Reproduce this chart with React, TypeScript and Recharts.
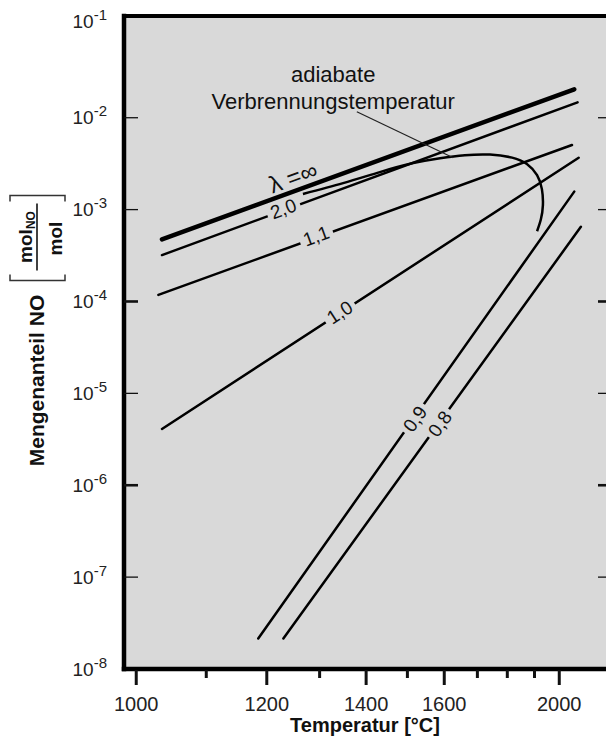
import React from "react";
import { LineChart, Line, XAxis, YAxis, CartesianGrid, ReferenceLine, ReferenceDot } from "recharts";

const W = 606;
const H = 737;
const FONT = '"Liberation Sans", Arial, Helvetica, sans-serif';
const BG = "#d9d9d9";

// temperature axis in °C, plotted over 1/T (K) like the original
const tempTicks = [1000, 1100, 1200, 1300, 1400, 1500, 1600, 1700, 1800, 1900, 2000];
const tempLabels = [1000, 1200, 1400, 1600, 2000];
const tempRange = [984, 2216];

// NO fraction, log axis
const noTicks = [1e-8, 1e-7, 1e-6, 1e-5, 1e-4, 1e-3, 1e-2, 1e-1];
const noRange = [1e-8, 0.128];

// lines of constant air ratio
const lambdaNames = ["λ =∞", "2,0", "1,1", "1,0", "0,9", "0,8"];
const lineStartT = [1035, 1035, 1030, 1035, 1185, 1230];
const lineEndT = [2065, 2080, 2055, 2085, 2065, 2095];
const lineStartNO = [4.75e-4, 3.2e-4, 1.18e-4, 4.1e-6, 2.15e-8, 2.15e-8];
const lineEndNO = [2.04e-2, 1.47e-2, 5.05e-3, 3.67e-3, 1.57e-3, 6.5e-4];

// where the names sit on the lines
const nameT = [1248, 1230, 1293, 1342, 1520, 1588];
const nameNO = [2.26e-3, 1.02e-3, 5.16e-4, 7.6e-5, 5.26e-6, 4.65e-6];
const nameAngle = [-20, -20, -20, -33, -55, -54];

// adiabatic combustion temperature
const adiabatT = [1267, 1349, 1432, 1515, 1588, 1661, 1741, 1817, 1871, 1910, 1929, 1933, 1925, 1910];
const adiabatNO = [1.48e-3, 1.94e-3, 2.56e-3, 3.21e-3, 3.63e-3, 3.91e-3, 3.97e-3, 3.68e-3, 3.13e-3, 2.37e-3, 1.67e-3, 1.12e-3, 7.84e-4, 5.82e-4];

// annotation + leader
const noteLines = ["adiabate", "Verbrennungstemperatur"];
const noteT = 1328;
const noteNO = 2.11e-2;
const leaderT = [1379, 1626];
const leaderNO = [1.16e-2, 3.67e-3];

const toInv = (t: number) => -1e4 / (t + 273.15);

const lambdaLines = lambdaNames.map((_, i) => [
    { inv: toInv(lineStartT[i]), no: lineStartNO[i] },
    { inv: toInv(lineEndT[i]), no: lineEndNO[i] },
]);
const adiabat = adiabatT.map((t, i) => ({ inv: toInv(t), no: adiabatNO[i] }));
const leader = leaderT.map((t, i) => ({ inv: toInv(t), no: leaderNO[i] }));

function TempTick({ x, y, payload }: any) {
    const t = Math.round(-1e4 / payload.value - 273.15);
    const major = tempLabels.includes(t);
    return (
        <g>
            <line x1={x} x2={x} y1={y + 1} y2={y + (major ? 16 : 9)} stroke="#111" strokeWidth={3} />
            {major && (
                <text x={x} y={y + 42} textAnchor="middle" fill="#222" fontFamily={FONT} fontSize={20}>
                    {t}
                </text>
            )}
        </g>
    );
}

function DecadeTick({ x, y, payload }: any) {
    const exp = Math.round(Math.log10(payload.value));
    const inner = exp > -8 && exp < -1;
    const sw = exp === -4 || exp === -6 ? 2.6 : 1.3;
    const dy = exp === -1 ? -4 : 0;
    return (
        <g>
            {inner && <line x1={x + 17} x2={x + 31} y1={y} y2={y} stroke="#111" strokeWidth={sw} />}
            {inner && <line x1={W - 8} x2={W} y1={y} y2={y} stroke="#111" strokeWidth={sw} />}
            <text x={x} y={y + 6.5 + dy} textAnchor="end" fill="#222" fontFamily={FONT} fontSize={19}>
                10<tspan dy={-8} fontSize={15}>{exp}</tspan>
            </text>
        </g>
    );
}

function NoTitle({ viewBox }: any) {
    const cx = viewBox.x + 36;
    const cy = viewBox.y + viewBox.height / 2 + 38;
    return (
        <g transform={`translate(${cx},${cy}) rotate(-90)`} fontFamily={FONT} fill="#111">
            <text x={0} y={0} textAnchor="middle" dominantBaseline="central" fontSize={21} fontWeight="bold">
                Mengenanteil NO
            </text>
            <path d="M106,-26 H100 V29 H106 M179,-26 H185 V29 H179" fill="none" stroke="#333" strokeWidth={1.5} />
            <path d="M110,1 H177" stroke="#111" strokeWidth={1.6} />
            <text x={143.5} y={-4} textAnchor="middle" fontSize={19} fontWeight="bold">
                mol<tspan fontSize={12} dy={3}>NO</tspan>
            </text>
            <text x={142} y={26} textAnchor="middle" fontSize={19} fontWeight="bold">
                mol
            </text>
        </g>
    );
}

function nameTag(i: number) {
    return (props: any) => {
        const vb = props.viewBox;
        const cx = vb.x + vb.width / 2;
        const cy = vb.y + vb.height / 2;
        const text = lambdaNames[i];
        const size = i === 0 ? 24 : 19;
        const w = text.length * size * 0.5 + 6;
        return (
            <g transform={`translate(${cx},${cy}) rotate(${nameAngle[i]})`}>
                {i > 0 && <rect x={-w / 2} y={-5} width={w} height={10} fill={BG} />}
                <text x={0} y={0} textAnchor="middle" dominantBaseline="central" fontSize={size} fill="#111" fontFamily={FONT}>
                    {text}
                </text>
            </g>
        );
    };
}

function Note(props: any) {
    const vb = props.viewBox;
    const cx = vb.x + vb.width / 2;
    const cy = vb.y + vb.height / 2;
    return (
        <g fontFamily={FONT} fontSize={22} fill="#111">
            <text x={cx} y={cy - 13.5} textAnchor="middle" dominantBaseline="central">{noteLines[0]}</text>
            <text x={cx} y={cy + 13.5} textAnchor="middle" dominantBaseline="central">{noteLines[1]}</text>
        </g>
    );
}

export default function App() {
    const border = { stroke: "#000", strokeWidth: 4.5, strokeLinecap: "square" as const };
    return (
        <div style={{ position: "absolute", left: 0, top: 0, width: W, height: H, overflow: "hidden", background: "#fff" }}>
            <LineChart width={W} height={H} margin={{ top: 16, right: 0, bottom: 0, left: 0 }} style={{ fontFamily: FONT }}>
                <CartesianGrid horizontal={false} vertical={false} fill={BG} />
                <XAxis
                    type="number"
                    dataKey="inv"
                    domain={[toInv(tempRange[0]), toInv(tempRange[1])]}
                    allowDataOverflow
                    ticks={tempTicks.map(toInv)}
                    interval={0}
                    height={68}
                    tickSize={0}
                    tickMargin={0}
                    tickLine={false}
                    axisLine={border}
                    tick={(p: any) => <TempTick {...p} />}
                    label={{ value: "Temperatur [°C]", position: "insideBottom", offset: 5, fill: "#111", fontSize: 20, fontWeight: "bold", fontFamily: FONT }}
                />
                <YAxis
                    type="number"
                    scale="log"
                    domain={noRange}
                    allowDataOverflow
                    ticks={noTicks}
                    interval={0}
                    width={124}
                    tickSize={0}
                    tickMargin={17}
                    tickLine={false}
                    axisLine={border}
                    tick={(p: any) => <DecadeTick {...p} />}
                    label={(p: any) => <NoTitle {...p} />}
                />
                <ReferenceLine y={noRange[1]} stroke="#000" strokeWidth={4} strokeLinecap="square" />

                {lambdaLines.map((d, i) => (
                    <Line
                        key={lambdaNames[i]}
                        data={d}
                        dataKey="no"
                        type="linear"
                        stroke="#000"
                        strokeWidth={i === 0 ? 4.5 : 2.5}
                        strokeLinecap="round"
                        dot={false}
                        activeDot={false}
                        isAnimationActive={false}
                    />
                ))}
                <Line data={adiabat} dataKey="no" type="natural" stroke="#000" strokeWidth={2.5} dot={false} activeDot={false} isAnimationActive={false} />
                <Line data={leader} dataKey="no" type="linear" stroke="#222" strokeWidth={1.2} dot={false} activeDot={false} isAnimationActive={false} />

                {lambdaNames.map((n, i) => (
                    <ReferenceDot key={"tag" + n} x={toInv(nameT[i])} y={nameNO[i]} r={0} fill="none" stroke="none" label={nameTag(i)} />
                ))}
                <ReferenceDot x={toInv(noteT)} y={noteNO} r={0} fill="none" stroke="none" label={Note} />
            </LineChart>
        </div>
    );
}
